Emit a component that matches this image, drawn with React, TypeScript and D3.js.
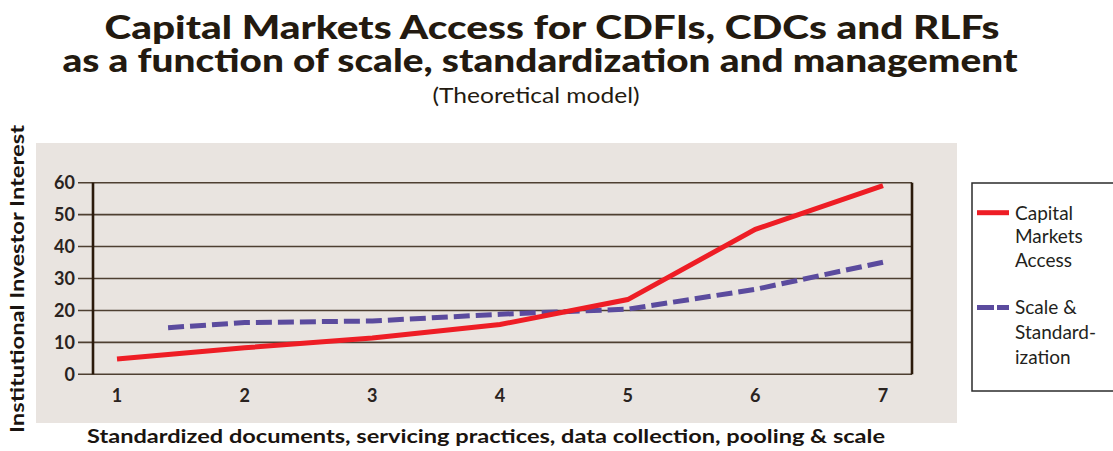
import React from "react";
import * as d3 from "d3";

const stages = [1, 2, 3, 4, 5, 6, 7];
const yTicks = [0, 10, 20, 30, 40, 50, 60];
const capitalX = [1, 2, 3, 4, 5, 6, 7];
const capitalY = [4.8, 8.3, 11.4, 15.6, 23.4, 45.4, 59.1];
const scaleX = [1.4, 2, 3, 4, 5, 6, 7];
const scaleY = [14.6, 16.2, 16.7, 18.8, 20.4, 26.6, 35.1];
const titleLines = [
  "Capital Markets Access for CDFIs, CDCs and RLFs",
  "as a function of scale, standardization and management",
];
const subtitle = "(Theoretical model)";
const yTitle = "Institutional Investor Interest";
const xTitle = "Standardized documents, servicing practices, data collection, pooling & scale";
const legendCapital = ["Capital", "Markets", "Access"];
const legendScale = ["Scale &", "Standard-", "ization"];

const W = 1113;
const H = 451;
const FONT = "Lato, 'Open Sans', sans-serif";
const RED = "#ee1d25";
const PURPLE = "#5b4b9e";
const GRID = "#4e3f31";
const AXIS = "#2b1a0b";
const BG = "#e9e4e0";

export default function App() {
  const x = d3.scaleLinear().domain([1, 7]).range([117, 883]);
  const y = d3.scaleLinear().domain([0, 60]).range([374.3, 182.7]);
  const xLeft = 93;
  const xRight = 912;
  const gridStart = 78;

  const line = d3
    .line<[number, number]>()
    .x((d) => x(d[0]))
    .y((d) => y(d[1]));

  const capData = capitalX.map((v, i) => [v, capitalY[i]] as [number, number]);
  const scData = scaleX.map((v, i) => [v, scaleY[i]] as [number, number]);

  return (
    <svg
      width={W}
      height={H}
      style={{ position: "absolute", left: 0, top: 0, display: "block" }}
      fontFamily={FONT}
    >
      <rect x={0} y={0} width={W} height={H} fill="#ffffff" />
      {/* Title */}
      <text x={552} y={39} textAnchor="middle" fontSize={32} fontWeight={900} fill="#231a10"
        textLength={895} lengthAdjust="spacingAndGlyphs">{titleLines[0]}</text>
      <text x={540} y={72} textAnchor="middle" fontSize={32} fontWeight={900} fill="#231a10"
        textLength={955} lengthAdjust="spacingAndGlyphs">{titleLines[1]}</text>
      <text x={536} y={103} textAnchor="middle" fontSize={21} fill="#231a10"
        textLength={207} lengthAdjust="spacingAndGlyphs">{subtitle}</text>

      {/* Plot panel */}
      <rect x={36} y={143} width={921} height={280} fill={BG} />

      {/* Grid lines and y ticks */}
      {yTicks.map((t) => (
        <g key={t}>
          <line x1={gridStart} x2={xRight} y1={y(t)} y2={y(t)} stroke={GRID} strokeWidth={1.6} />
          <text x={75} y={y(t)} dy="0.36em" textAnchor="end" fontSize={18} fontWeight={700} fill="#2a2320">
            {t}
          </text>
        </g>
      ))}
      <line x1={xLeft} x2={xLeft} y1={y(60)} y2={y(0)} stroke={AXIS} strokeWidth={2.6} />
      <line x1={xRight} x2={xRight} y1={y(60)} y2={y(0)} stroke={AXIS} strokeWidth={2.6} />

      {/* X tick labels */}
      {stages.map((s) => (
        <text key={s} x={x(s)} y={396} dy="0.36em" textAnchor="middle" fontSize={18} fontWeight={700} fill="#2a2320">
          {s}
        </text>
      ))}

      {/* Series */}
      <path d={line(scData) || ""} fill="none" stroke={PURPLE} strokeWidth={5} strokeDasharray="16 6" />
      <path d={line(capData) || ""} fill="none" stroke={RED} strokeWidth={5} />

      {/* Axis titles */}
      <text transform={`translate(24,279) rotate(-90)`} textAnchor="middle" fontSize={18} fontWeight={700}
        fill="#1a1410" textLength={308} lengthAdjust="spacingAndGlyphs">{yTitle}</text>
      <text x={486} y={443} textAnchor="middle" fontSize={18} fontWeight={700} fill="#1a1410"
        textLength={798} lengthAdjust="spacingAndGlyphs">{xTitle}</text>

      {/* Legend */}
      <rect x={972} y={183} width={160} height={208} fill="#ffffff" stroke="#2b2b2b" strokeWidth={1.5} />
      <line x1={977} x2={1009} y1={212.7} y2={212.7} stroke={RED} strokeWidth={5} />
      {legendCapital.map((t, i) => (
        <text key={t} x={1015} y={212.7 + i * 23.7} dy="0.36em" fontSize={19} fill="#231f20">{t}</text>
      ))}
      <line x1={977} x2={1009} y1={307.5} y2={307.5} stroke={PURPLE} strokeWidth={5} strokeDasharray="17 3" />
      {legendScale.map((t, i) => (
        <text key={t} x={1015} y={307.5 + i * 24.6} dy="0.36em" fontSize={19} fill="#231f20">{t}</text>
      ))}
    </svg>
  );
}
